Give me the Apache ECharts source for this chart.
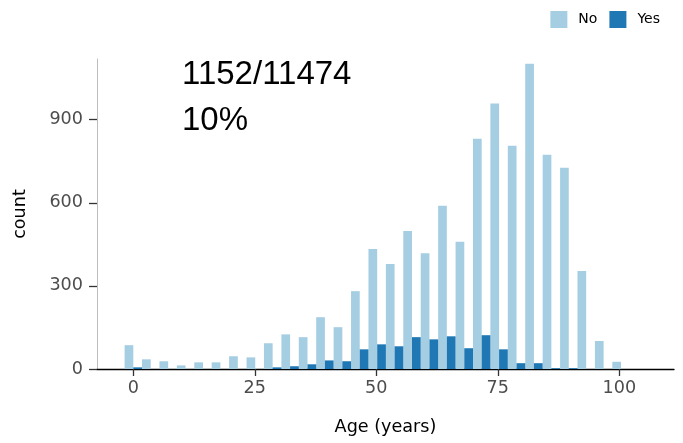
<!DOCTYPE html>
<html>
<head>
<meta charset="utf-8">
<script src="https://cdn.jsdelivr.net/npm/echarts@6/dist/echarts.min.js"></script>
<style>html,body{margin:0;padding:0;background:#fff}#c{width:683px;height:443px}</style>
</head>
<body>
<div id="c"></div>
<script>
// bin centres (years), bin width 3.584 years
const ageBins = [0, 3.58, 7.17, 10.75, 14.34, 17.92, 21.5, 25.09, 28.67, 32.26, 35.84, 39.42, 43.01, 46.59, 50.18, 53.76, 57.34, 60.93, 64.51, 68.1, 71.68, 75.26, 78.85, 82.43, 86.02, 89.6, 93.18, 96.77, 100.35];
const BIN_WIDTH = 3.584;
const countNo  = [86, 35, 28, 13, 24, 24, 46, 42, 93, 125, 115, 187, 151, 281, 433, 379, 498, 418, 589, 459, 831, 958, 806, 1102, 773, 726, 354, 101, 26];
const countYes = [6, 0, 0, 0, 0, 0, 0, 0, 6, 10, 17, 31, 28, 71, 89, 82, 115, 107, 118, 75, 122, 71, 21, 21, 3, 3, 0, 0, 0];
const xTicks = [0, 25, 50, 75, 100];
const seriesNames = ['No', 'Yes'];
const annotation1 = '1152/11474';
const annotation2 = '10%';

const colors = ['#a6cee3', '#1f78b4'];

function makeRender(side) {
  return function (params, api) {
    const c = api.value(0), v = api.value(1);
    if (!v) return null;
    const x0 = side === 0 ? c - BIN_WIDTH / 2 : c;
    const x1 = side === 0 ? c : c + BIN_WIDTH / 2;
    const p0 = api.coord([x0, v]);
    const p1 = api.coord([x1, 0]);
    return {
      type: 'rect',
      shape: { x: p0[0], y: p0[1], width: p1[0] - p0[0], height: p1[1] - p0[1] },
      style: { fill: colors[side] }
    };
  };
}

const chart = echarts.init(document.getElementById('c'), null, { renderer: 'canvas' });
chart.setOption({
  animation: false,
  backgroundColor: '#ffffff',
  grid: { left: 97, right: 9, top: 59, height: 310 },
  legend: {
    data: seriesNames,
    right: 18, top: 6,
    icon: 'rect', itemWidth: 17, itemHeight: 17, itemGap: 12,
    textStyle: { fontFamily: 'DejaVu Sans', fontSize: 14, color: '#000', padding: [0, 0, 0, 6] }
  },
  xAxis: {
    type: 'value', min: -7.47, max: 111.25,
    name: 'Age (years)', nameLocation: 'middle', nameGap: 49,
    nameTextStyle: { fontFamily: 'DejaVu Sans', fontSize: 17.6, color: '#000' },
    axisLine: { show: true, onZero: false, lineStyle: { color: '#000', width: 1.3 } },
    axisTick: { show: true, customValues: xTicks, length: 7, lineStyle: { color: '#333', width: 1.3 } },
    axisLabel: { customValues: xTicks, fontFamily: 'DejaVu Sans', fontSize: 17.6, color: '#4d4d4d', margin: 10 },
    splitLine: { show: false }
  },
  yAxis: {
    type: 'value', min: 0, max: 1119, interval: 300,
    name: 'count', nameLocation: 'middle', nameGap: 68, nameRotate: 90,
    nameTextStyle: { fontFamily: 'DejaVu Sans', fontSize: 17.6, color: '#000' },
    axisLine: { show: true, onZero: false, lineStyle: { color: '#bdbdbd', width: 1 } },
    axisTick: { show: true, length: 8, lineStyle: { color: '#333', width: 1.3 } },
    axisLabel: { fontFamily: 'DejaVu Sans', fontSize: 17.6, color: '#4d4d4d', margin: 14, showMaxLabel: false },
    splitLine: { show: false }
  },
  graphic: [
    { type: 'text', left: 182, top: 58, style: { text: annotation1, font: '33px "Liberation Sans"', fill: '#000' } },
    { type: 'text', left: 182, top: 104, style: { text: annotation2, font: '33px "Liberation Sans"', fill: '#000' } }
  ],
  series: [
    { name: seriesNames[0], type: 'custom', itemStyle: { color: colors[0] }, renderItem: makeRender(0),
      encode: { x: 0, y: 1 }, data: ageBins.map((a, i) => [a, countNo[i]]) },
    { name: seriesNames[1], type: 'custom', itemStyle: { color: colors[1] }, renderItem: makeRender(1),
      encode: { x: 0, y: 1 }, data: ageBins.map((a, i) => [a, countYes[i]]) }
  ]
});
</script>
</body>
</html>
